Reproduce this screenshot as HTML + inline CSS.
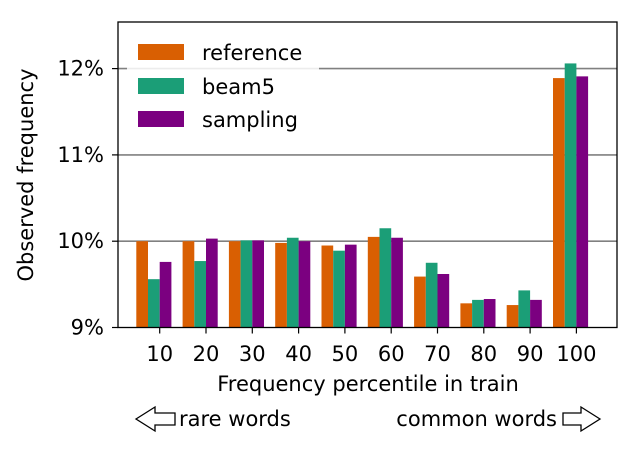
<!DOCTYPE html>
<html><head><meta charset="utf-8"><style>
body{margin:0;background:#fff;}
svg text{font-family:"DejaVu Sans","Liberation Sans",sans-serif;fill:#000;}
</style></head><body>
<svg width="642" height="449" viewBox="0 0 642 449" xmlns="http://www.w3.org/2000/svg">
<g id="grid"></g>
<g id="bars"></g>
<rect x="118" y="22" width="499" height="305.5" fill="none" stroke="#000" stroke-width="1.3"/>
<g id="axes"></g>
<text x="33" y="175" font-size="21" text-anchor="middle" transform="rotate(-90 33 175)">Observed frequency</text>
<text x="368" y="391" font-size="21" text-anchor="middle">Frequency percentile in train</text>
<path d="M136 419 L155 407 L155 413 L175 413 L175 425 L155 425 L155 431 Z" fill="#fff" stroke="#000" stroke-width="1.3"/>
<text x="179" y="426" font-size="21">rare words</text>
<text x="557" y="426" font-size="21" text-anchor="end">common words</text>
<path d="M600 419 L581 407 L581 413 L563 413 L563 425 L581 425 L581 431 Z" fill="#fff" stroke="#000" stroke-width="1.3"/>
<g>
<rect x="127" y="31" width="192" height="108" fill="#fff" fill-opacity="0.85" rx="3"/>
<rect x="138" y="44" width="46" height="16" fill="#d95f02"/>
<text x="202" y="60" font-size="21">reference</text>
<rect x="138" y="78" width="46" height="16" fill="#1b9e77"/>
<text x="202" y="94" font-size="21">beam5</text>
<rect x="138" y="111" width="46" height="16" fill="#7b0080"/>
<text x="202" y="127" font-size="21">sampling</text>
</g>
</svg>
<script>
const categories = ["10","20","30","40","50","60","70","80","90","100"];
const reference = [10.0,10.0,10.0,9.98,9.95,10.05,9.59,9.28,9.26,11.89];
const beam5 = [9.56,9.77,10.01,10.04,9.89,10.15,9.75,9.32,9.43,12.06];
const sampling = [9.76,10.03,10.01,10.0,9.96,10.04,9.62,9.33,9.32,11.91];
const yTicks = [9,10,11,12];
const yTickLabels = ["9%","10%","11%","12%"];

const NS="http://www.w3.org/2000/svg";
const y0=327.5, yMin=9, pxPer=86.3;
const yScale=v=>y0-(v-yMin)*pxPer;
const x0=159.7, step=46.3, bw=11.7;
const xScale=i=>x0+i*step;
function mk(t,a){const e=document.createElementNS(NS,t);for(const k in a)e.setAttribute(k,a[k]);return e;}
const grid=document.getElementById('grid'), bars=document.getElementById('bars'), axes=document.getElementById('axes');
yTicks.forEach((t,i)=>{
  const y=yScale(t);
  if(t>yMin){const l=mk('line',{x1:118,x2:617,y1:y,y2:y,stroke:'#808080','stroke-width':1.6});
  
  grid.appendChild(l);}
  const tk=mk('line',{x1:112,x2:118,y1:y,y2:y,stroke:'#000','stroke-width':1.2});
  
  axes.appendChild(tk);
  const tx=mk('text',{x:104,y:y+7,'font-size':21,'text-anchor':'end'});tx.textContent=yTickLabels[i];
  
  axes.appendChild(tx);
});
const series=[[reference,'#d95f02','reference'],[beam5,'#1b9e77','beam5'],[sampling,'#7b0080','sampling']];
categories.forEach((c,i)=>{
  const cx=xScale(i);
  series.forEach((s,j)=>{
    const v=s[0][i], x=cx+(j-2)*bw, y=yScale(v);
    const r=mk('rect',{x:x,y:y,width:bw,height:y0-y,fill:s[1]});
    
    bars.appendChild(r);
  });
  const tk=mk('line',{x1:cx,x2:cx,y1:y0,y2:y0+6,stroke:'#000','stroke-width':1.2});
  
  axes.appendChild(tk);
  const tx=mk('text',{x:cx,y:361,'font-size':21,'text-anchor':'middle'});tx.textContent=c;
  
  axes.appendChild(tx);
});
</script>
</body></html>
